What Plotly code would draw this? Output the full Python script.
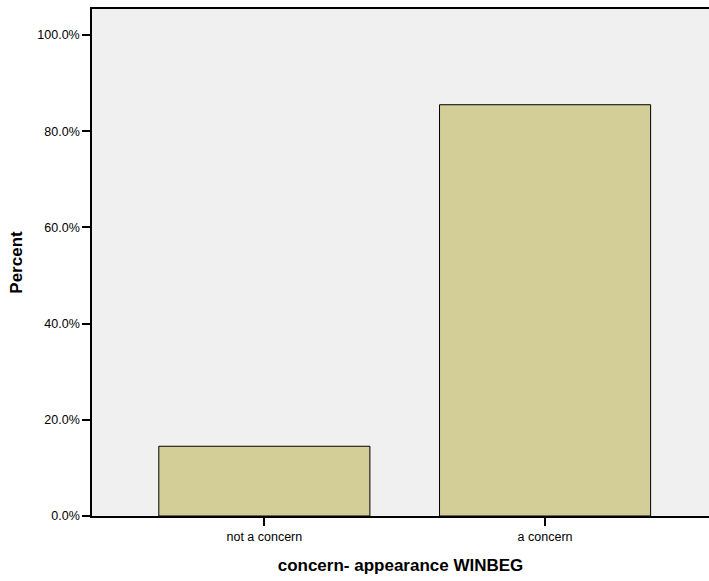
import plotly.graph_objects as go

categories = ["not a concern", "a concern"]
percents = [14.5, 85.5]
ytick_vals = [0, 20, 40, 60, 80, 100]
ytick_text = ["0.0%", "20.0%", "40.0%", "60.0%", "80.0%", "100.0%"]

font_family = "Arial, Liberation Sans, sans-serif"

fig = go.Figure(
    go.Bar(
        x=categories,
        y=percents,
        width=0.752,
        marker=dict(color="#D3CE97", line=dict(color="black", width=1)),
        hoverinfo="x+y",
    )
)

fig.update_layout(
    width=709,
    height=581,
    margin=dict(l=92, r=0, t=9, b=65),
    paper_bgcolor="white",
    plot_bgcolor="#F0F0F0",
    font=dict(family=font_family, color="black", size=12.5),
    showlegend=False,
    xaxis=dict(
        range=[-0.614, 1.584],
        showline=True,
        linecolor="black",
        linewidth=1.5,
        mirror=True,
        ticks="outside",
        ticklen=8,
        tickcolor="black",
        tickwidth=1.5,
        showgrid=False,
        zeroline=False,
        tickfont=dict(size=12.5),
        title=dict(
            text="<b>concern- appearance WINBEG</b>",
            font=dict(size=17),
            standoff=16,
        ),
    ),
    yaxis=dict(
        range=[0, 105.4],
        tickvals=ytick_vals,
        ticktext=ytick_text,
        showline=True,
        linecolor="black",
        linewidth=1.5,
        ticks="outside",
        ticklen=8,
        tickcolor="black",
        tickwidth=1.5,
        showgrid=False,
        zeroline=False,
        tickfont=dict(size=12.5),
        title=dict(text="<b>Percent</b>", font=dict(size=17), standoff=10),
    ),
)

fig.write_html(
    "out.html",
    config={"displayModeBar": False},
    post_script="document.body.style.margin='0px';",
)
